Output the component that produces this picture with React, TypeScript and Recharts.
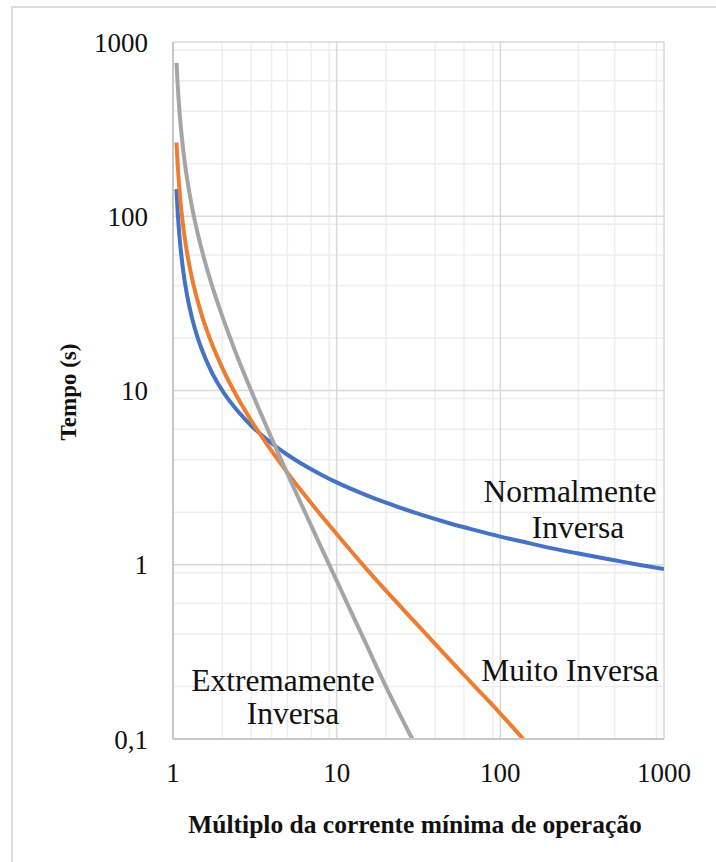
import { LineChart, Line, XAxis, YAxis, CartesianGrid } from "recharts"

// Múltiplo da corrente (M) e tempo de atuação (s)
const multiples = [
  1.05, 1.07, 1.1, 1.15, 1.2, 1.3, 1.4, 1.5, 1.7, 2, 2.5, 3, 4, 5, 6, 8, 10, 15, 20, 30, 50, 70, 100,
  150, 200, 300, 500, 700, 1000,
]
const normalInverse = [
  143, 103, 73.4, 50, 38.3, 26.6, 20.7, 17.2, 13.1, 10.0, 7.57, 6.3, 4.98, 4.28, 3.84, 3.3, 2.97, 2.52,
  2.27, 1.99, 1.72, 1.58, 1.45, 1.33, 1.25, 1.16, 1.06, 1.0, 0.945,
]

const veryMultiples = [
  1.05, 1.07, 1.1, 1.15, 1.2, 1.3, 1.4, 1.5, 1.7, 2, 2.5, 3, 4, 5, 6, 8, 10, 15, 20, 30, 50, 70, 100, 138,
]
const veryInverse = [
  265, 193, 135, 90, 67.5, 45, 33.8, 27, 19.3, 13.5, 9.0, 6.75, 4.5, 3.38, 2.7, 1.93, 1.5, 0.96, 0.71,
  0.47, 0.28, 0.2, 0.14, 0.1,
]

const extremeMultiples = [
  1.05, 1.07, 1.1, 1.15, 1.2, 1.3, 1.4, 1.5, 1.7, 2, 2.5, 3, 4, 5, 6, 8, 10, 15, 20, 29,
]
const extremeInverse = [
  760, 552, 381, 248, 182, 116, 83.3, 64, 42.3, 26.7, 15.2, 10, 5.33, 3.33, 2.29, 1.27, 0.81, 0.357, 0.2,
  0.1,
]

const xTicks = [1, 10, 100, 1000]
const yTicks = [0.1, 1, 10, 100, 1000]

const toPoints = (ms: number[], ts: number[]) => ms.map((m, i) => ({ m, t: ts[i] }))

const minorOf = (decades: number[]) =>
  decades.slice(0, -1).flatMap((d) => [2, 3, 4, 5, 6, 7, 8, 9].map((k) => k * d))

const font = "'Liberation Serif', 'Times New Roman', serif"

export default function App() {
  const normalData = toPoints(multiples, normalInverse)
  const veryData = toPoints(veryMultiples, veryInverse)
  const extremeData = toPoints(extremeMultiples, extremeInverse)

  return (
    <div style={{ position: "absolute", left: 0, top: 0, width: 716, height: 862, overflow: "hidden", background: "#fff" }}>
      <div
        style={{
          position: "absolute",
          left: 11,
          top: 6,
          width: 740,
          height: 900,
          border: "2px solid #dcdcdc",
        }}
      />
      <div style={{ position: "absolute", left: 0, top: 0 }}>
        <LineChart width={716} height={862} margin={{ top: 42, right: 52, bottom: 0, left: 0 }}>
          <CartesianGrid
            stroke="#eeeeee"
            strokeWidth={1.5}
            horizontalValues={minorOf(yTicks)}
            verticalValues={minorOf(xTicks)}
          />
          <CartesianGrid
            stroke="#d9d9d9"
            strokeWidth={1.5}
            horizontalValues={yTicks}
            verticalValues={xTicks}
          />
          <XAxis
            dataKey="m"
            type="number"
            scale="log"
            domain={[1, 1000]}
            allowDataOverflow
            ticks={xTicks}
            height={123}
            tickSize={0}
            tickMargin={24}
            axisLine={{ stroke: "#c8c8c8", strokeWidth: 2 }}
            tickLine={false}
            tick={{ fontFamily: font, fontSize: 27, fill: "#111" }}
          />
          <YAxis
            dataKey="t"
            type="number"
            scale="log"
            domain={[0.1, 1000]}
            allowDataOverflow
            ticks={yTicks}
            width={173}
            tickSize={0}
            tickMargin={25}
            axisLine={{ stroke: "#c8c8c8", strokeWidth: 2 }}
            tickLine={false}
            tickFormatter={(v: number) => String(v).replace(".", ",")}
            tick={{ fontFamily: font, fontSize: 27, fill: "#111" }}
          />
          <Line
            data={normalData}
            dataKey="t"
            type="monotone"
            stroke="#4472C4"
            strokeWidth={4}
            dot={false}
            isAnimationActive={false}
          />
          <Line
            data={veryData}
            dataKey="t"
            type="monotone"
            stroke="#ED7D31"
            strokeWidth={4}
            dot={false}
            isAnimationActive={false}
          />
          <Line
            data={extremeData}
            dataKey="t"
            type="monotone"
            stroke="#A5A5A5"
            strokeWidth={4}
            dot={false}
            isAnimationActive={false}
          />
        </LineChart>
      </div>
      <svg
        width={716}
        height={862}
        style={{ position: "absolute", left: 0, top: 0, pointerEvents: "none" }}
        fontFamily={font}
        fill="#111"
      >
        <text x={570} y={502} fontSize={31.5} textAnchor="middle">Normalmente</text>
        <text x={578} y={538} fontSize={31.5} textAnchor="middle">Inversa</text>
        <text x={570} y={681} fontSize={31.5} textAnchor="middle">Muito Inversa</text>
        <text x={283} y={691} fontSize={31.5} textAnchor="middle">Extremamente</text>
        <text x={293} y={724} fontSize={31.5} textAnchor="middle">Inversa</text>
        <text x={415} y={833} fontSize={25.5} fontWeight="bold" textAnchor="middle">
          Múltiplo da corrente mínima de operação
        </text>
        <text
          x={0}
          y={0}
          fontSize={23}
          fontWeight="bold"
          textAnchor="middle"
          transform="translate(76 392) rotate(-90)"
        >
          Tempo (s)
        </text>
      </svg>
    </div>
  )
}
